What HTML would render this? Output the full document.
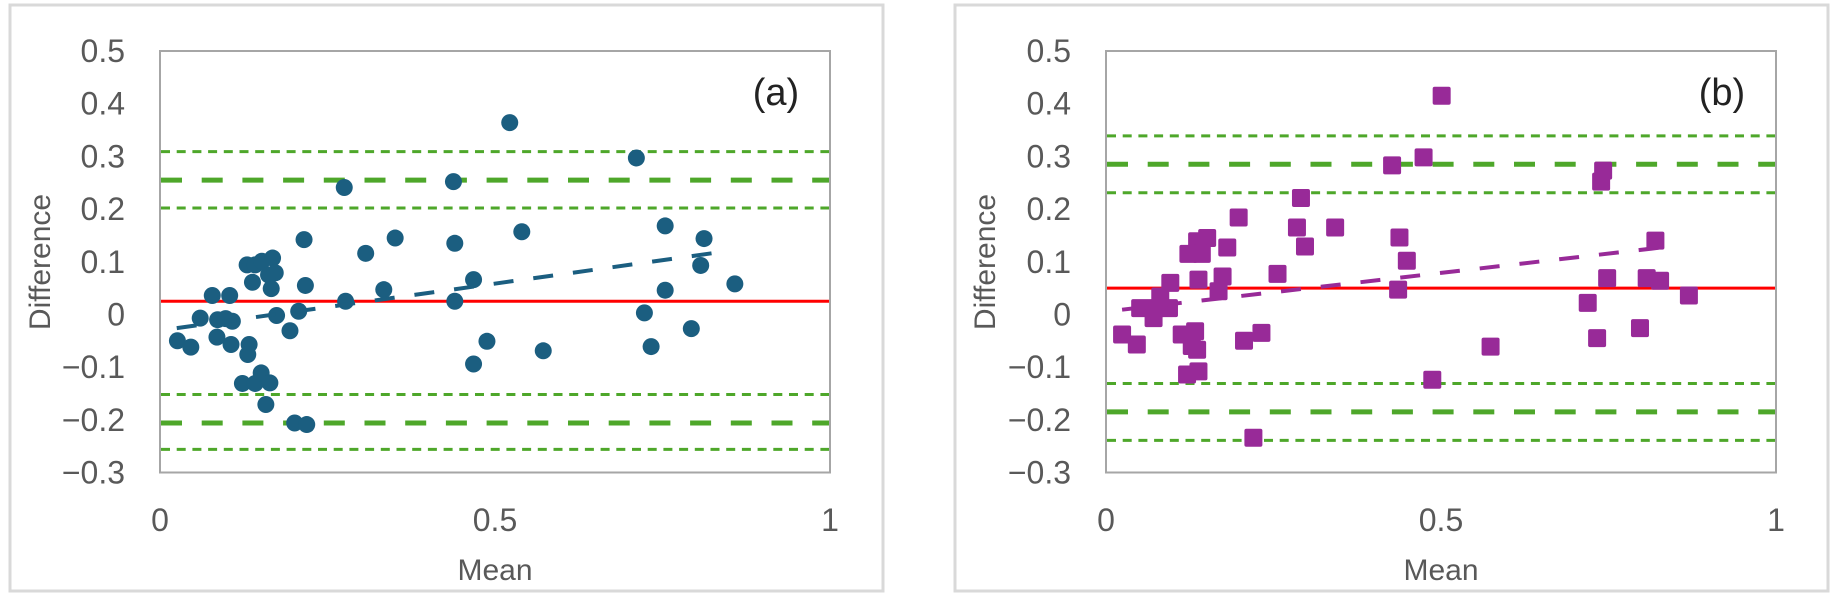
<!DOCTYPE html>
<html><head><meta charset="utf-8"><style>
html,body{margin:0;padding:0;background:#fff;width:1842px;height:603px;overflow:hidden}
svg{display:block;font-family:"Liberation Sans",sans-serif}
</style></head><body>
<svg id="chart" width="1842" height="603" viewBox="0 0 1842 603"></svg>
<script>
// ---- data: panel (a)
const aMean=[.026,.046,.060,.078,.104,.086,.098,.108,.085,.106,.133,.131,.130,.142,.152,.168,.162,.172,.138,.166,.174,.194,.207,.215,.217,.123,.142,.151,.164,.158,.201,.219,.275,.277,.307,.334,.351,.438,.440,.440,.468,.488,.468,.522,.711,.540,.754,.812,.807,.754,.858,.723,.793,.733,.572];
const aDiff=[-.050,-.062,-.007,.036,.036,-.010,-.008,-.013,-.043,-.057,-.057,-.076,.094,.094,.101,.107,.075,.079,.061,.049,-.002,-.031,.006,.142,.055,-.131,-.131,-.111,-.130,-.171,-.206,-.209,.241,.025,.116,.047,.145,.252,.135,.025,.066,-.051,-.094,.364,.297,.157,.168,.144,.093,.046,.058,.003,-.027,-.061,-.069];
const aBias=0.025, aLoA=[0.255,-0.206], aLoACI=[0.309,0.202,-0.152,-0.256];
const aTrendX=[0.025,0.84], aTrendY=[-0.026,0.119];
// ---- data: panel (b)
const bMean=[.501,.474,.427,.291,.198,.285,.342,.297,.438,.449,.436,.181,.151,.136,.123,.143,.138,.174,.168,.256,.096,.081,.074,.051,.094,.071,.024,.046,.113,.133,.136,.128,.121,.138,.206,.232,.220,.487,.742,.739,.820,.748,.807,.827,.870,.719,.733,.797,.574];
const bDiff=[.415,.298,.283,.221,.184,.165,.165,.129,.146,.102,.047,.127,.145,.139,.115,.115,.066,.072,.044,.077,.060,.034,.012,.012,.012,-.007,-.038,-.057,-.038,-.032,-.067,-.060,-.114,-.108,-.050,-.035,-.234,-.124,.273,.252,.140,.069,.069,.064,.036,.022,-.045,-.026,-.061];
const bBias=0.050, bLoA=[0.285,-0.185], bLoACI=[0.339,0.231,-0.131,-0.239];
const bTrendX=[0.024,0.842], bTrendY=[0.009,0.129];
const yTicks=[0.5,0.4,0.3,0.2,0.1,0,-0.1,-0.2,-0.3];
const yTickLabels=["0.5","0.4","0.3","0.2","0.1","0","\u22120.1","\u22120.2","\u22120.3"];
const xTicks=[0,0.5,1];
const xTickLabels=["0","0.5","1"];

const NS="http://www.w3.org/2000/svg";
const svg=document.getElementById('chart');
function mk(tag,attrs,parent){const e=document.createElementNS(NS,tag);for(const k in attrs)e.setAttribute(k,attrs[k]);(parent||svg).appendChild(e);return e;}

function panel(o){
  const g=mk('g',{});
  
  
  const fr=mk('rect',{x:o.fx,y:5,width:873,height:586,fill:'#fff',stroke:'#d9d9d9','stroke-width':3},g);
  
  
  const L=o.px,R=o.px+670,T=51,B=472.5;
  const sx=v=>L+v*(R-L);
  const sy=v=>T+(0.5-v)*(B-T)/0.8;
  const pa=mk('rect',{x:L,y:T,width:R-L,height:B-T,fill:'none',stroke:'#a6a6a6','stroke-width':2},g);
  
  
  yTicks.forEach((v,i)=>{
    const t=mk('text',{x:L-35,y:sy(v)+11,'text-anchor':'end','font-size':32,fill:'#595959'},g);
    t.textContent=yTickLabels[i];
    
    
  });
  xTicks.forEach((v,i)=>{
    const t=mk('text',{x:sx(v),y:531,'text-anchor':'middle','font-size':32,fill:'#595959'},g);
    t.textContent=xTickLabels[i];
    
    
  });
  const xt=mk('text',{x:(L+R)/2,y:580,'text-anchor':'middle','font-size':30,fill:'#595959'},g);
  xt.textContent='Mean';
  
  
  const yt=mk('text',{x:0,y:0,'text-anchor':'middle','font-size':30,fill:'#595959',transform:`translate(${o.fx+40},262) rotate(-90)`},g);
  yt.textContent='Difference';
  
  
  const lab=mk('text',{x:o.px+616,y:105,'text-anchor':'middle','font-size':38,fill:'#222'},g);
  lab.textContent=o.label;
  
  
  o.ci.forEach(v=>{
    const l=mk('line',{x1:L+1,x2:R-1,y1:sy(v),y2:sy(v),stroke:'#4ea72a','stroke-width':3,'stroke-dasharray':'9 6.7'},g);
    
    
  });
  o.loa.forEach(v=>{
    const l=mk('line',{x1:L+1,x2:R-1,y1:sy(v),y2:sy(v),stroke:'#4ea72a','stroke-width':5,'stroke-dasharray':'21 19.7'},g);
    
    
  });
  const bl=mk('line',{x1:L+1,x2:R-1,y1:sy(o.bias),y2:sy(o.bias),stroke:'#ff0000','stroke-width':3},g);
  
  
  o.mean.forEach((m,i)=>{
    let p;
    if(o.shape==='circle'){
      p=mk('circle',{cx:sx(m),cy:sy(o.diff[i]),r:8.5,fill:o.color},g);
    } else {
      p=mk('rect',{x:sx(m)-9,y:sy(o.diff[i])-9,width:18,height:18,rx:2,fill:o.color},g);
    }
    
    
  });
  const tl=mk('line',{x1:sx(o.tx[0]),y1:sy(o.ty[0]),x2:sx(o.tx[1]),y2:sy(o.ty[1]),stroke:o.color,'stroke-width':4,'stroke-dasharray':'20 20'},g);
  
  
}
panel({name:'panel-a',fx:10,px:160,label:'(a)',mean:aMean,diff:aDiff,bias:aBias,loa:aLoA,ci:aLoACI,tx:aTrendX,ty:aTrendY,color:'#1b5e80',shape:'circle'});
panel({name:'panel-b',fx:955,px:1106,label:'(b)',mean:bMean,diff:bDiff,bias:bBias,loa:bLoA,ci:bLoACI,tx:bTrendX,ty:bTrendY,color:'#982a98',shape:'square'});
</script>
</body></html>
